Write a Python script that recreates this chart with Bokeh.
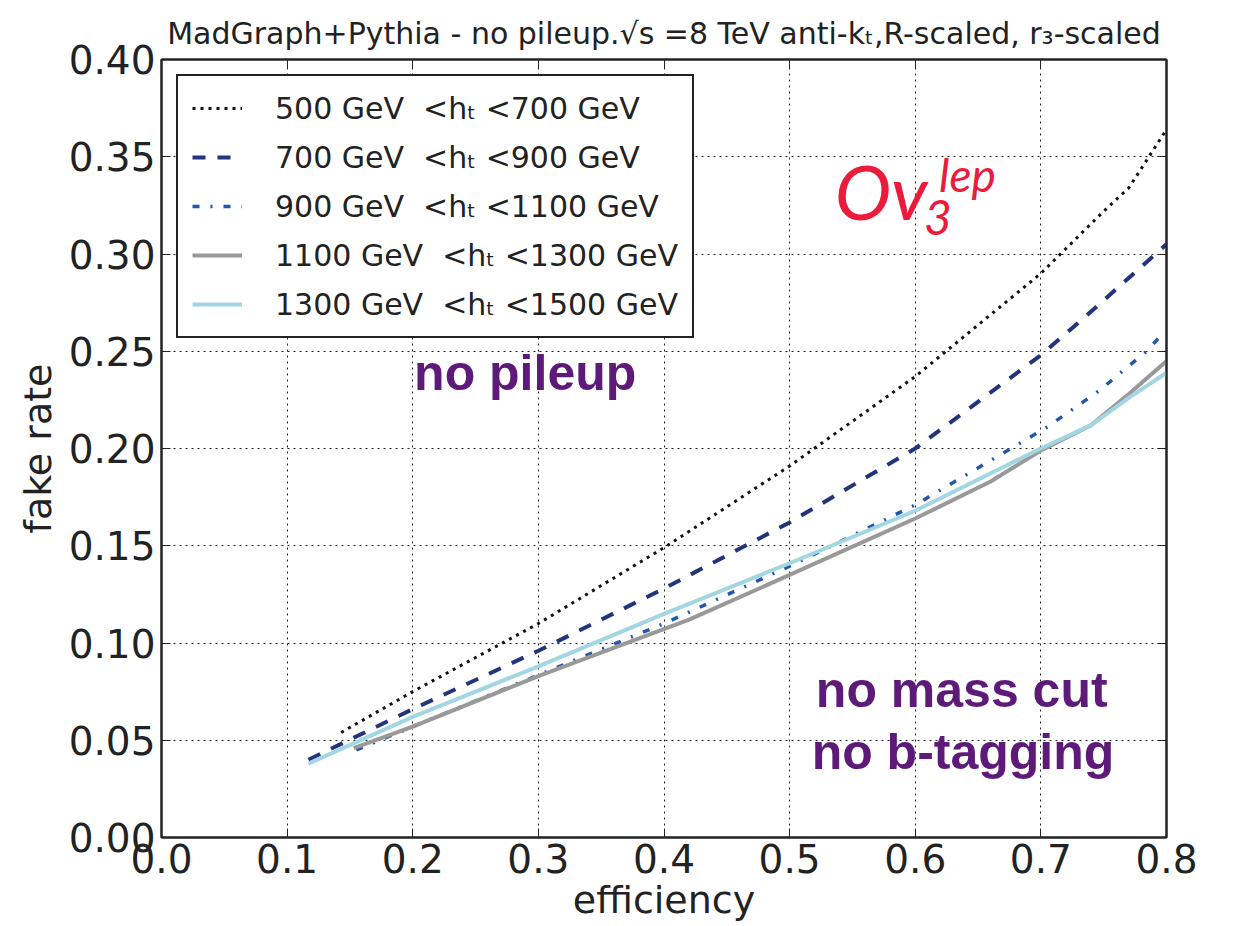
from bokeh.plotting import figure
from bokeh.models import (Range1d, FixedTicker, Legend, LegendItem, Label,
                          NumeralTickFormatter, LinearAxis)
from bokeh.embed import file_html
from bokeh.resources import INLINE

# ---- data ----
labels = [
    "500 GeV  <hₜ <700 GeV",
    "700 GeV  <hₜ <900 GeV",
    "900 GeV  <hₜ <1100 GeV",
    "1100 GeV  <hₜ <1300 GeV",
    "1300 GeV  <hₜ <1500 GeV",
]
eff_500 = [0.143, 0.2, 0.3, 0.4, 0.5, 0.6, 0.7, 0.75, 0.77, 0.8]
fake_500 = [0.054, 0.075, 0.110, 0.149, 0.191, 0.237, 0.290, 0.322, 0.334, 0.364]

eff_700 = [0.117, 0.2, 0.3, 0.4, 0.5, 0.6, 0.7, 0.734, 0.8]
fake_700 = [0.040, 0.066, 0.096, 0.128, 0.162, 0.200, 0.248, 0.267, 0.305]

eff_900 = [0.155, 0.2, 0.3, 0.4, 0.5, 0.6, 0.705, 0.747, 0.785, 0.794]
fake_900 = [0.045, 0.057, 0.0835, 0.110, 0.1395, 0.171, 0.211, 0.230, 0.2505, 0.257]

eff_1100 = [0.153, 0.2, 0.3, 0.42, 0.5, 0.6, 0.66, 0.7, 0.74, 0.77, 0.8]
fake_1100 = [0.046, 0.057, 0.083, 0.112, 0.135, 0.164, 0.183, 0.199, 0.212, 0.228, 0.245]

eff_1300 = [0.117, 0.2, 0.3, 0.4, 0.5, 0.6, 0.7, 0.74, 0.77, 0.8]
fake_1300 = [0.038, 0.062, 0.088, 0.115, 0.141, 0.168, 0.200, 0.212, 0.226, 0.239]

x_ticks = [0.0, 0.1, 0.2, 0.3, 0.4, 0.5, 0.6, 0.7, 0.8]
y_ticks = [0.00, 0.05, 0.10, 0.15, 0.20, 0.25, 0.30, 0.35, 0.40]

title_text = "MadGraph+Pythia - no pileup.√s =8 TeV anti-kₜ,R-scaled, r₃-scaled"

# ---- figure ----
p = figure(width=1222, height=924, output_backend="svg", toolbar_location=None,
           x_range=Range1d(0, 0.8), y_range=Range1d(0, 0.4),
           min_border_left=161, min_border_right=56, min_border_top=59, min_border_bottom=86)

p.title.text = title_text
p.title.align = "center"
p.title.text_font = "DejaVu Sans"
p.title.text_font_size = "30px"
p.title.text_font_style = "normal"
p.title.text_color = "#222222"
p.title.standoff = 18

p.outline_line_color = "#222222"
p.outline_line_width = 2
p.background_fill_color = "white"
p.border_fill_color = "white"

for ax in (p.xaxis[0], p.yaxis[0]):
    ax.axis_line_width = 2
    ax.axis_line_color = "#222222"
    ax.major_tick_in = 9
    ax.major_tick_out = 0
    ax.minor_tick_line_color = None
    ax.major_tick_line_color = "#222222"
    ax.major_label_text_font = "DejaVu Sans"
    ax.major_label_text_font_size = "39px"
    ax.major_label_text_color = "#222222"

p.xaxis[0].ticker = FixedTicker(ticks=x_ticks)
p.yaxis[0].ticker = FixedTicker(ticks=y_ticks)
p.xaxis[0].formatter = NumeralTickFormatter(format="0.0")
p.yaxis[0].formatter = NumeralTickFormatter(format="0.00")
p.xaxis[0].major_label_standoff = 6
p.yaxis[0].major_label_standoff = 6

p.xaxis[0].axis_label = "efficiency"
p.xaxis[0].axis_label_text_font = "DejaVu Sans"
p.xaxis[0].axis_label_text_font_size = "38px"
p.xaxis[0].axis_label_text_font_style = "normal"
p.xaxis[0].axis_label_text_color = "#222222"
p.xaxis[0].axis_label_standoff = 2

p.yaxis[0].axis_label = "fake rate"
p.yaxis[0].axis_label_text_font = "DejaVu Sans"
p.yaxis[0].axis_label_text_font_size = "38px"
p.yaxis[0].axis_label_text_font_style = "normal"
p.yaxis[0].axis_label_text_color = "#222222"
p.yaxis[0].axis_label_standoff = 6

# mirrored tick marks on the top and right edges (no labels)
top_ax = LinearAxis(ticker=FixedTicker(ticks=x_ticks),
                    major_label_overrides={t: "" for t in x_ticks},
                    major_label_text_font_size="1px", major_label_standoff=0,
                    major_tick_in=9, major_tick_out=0, minor_tick_line_color=None,
                    axis_line_width=2, axis_line_color="#222222",
                    major_tick_line_color="#222222")
right_ax = LinearAxis(ticker=FixedTicker(ticks=y_ticks),
                      major_label_overrides={t: "" for t in y_ticks},
                      major_label_text_font_size="1px", major_label_standoff=0,
                      major_tick_in=9, major_tick_out=0, minor_tick_line_color=None,
                      axis_line_width=2, axis_line_color="#222222",
                      major_tick_line_color="#222222")
p.add_layout(top_ax, "above")
p.add_layout(right_ax, "right")

p.xgrid[0].ticker = FixedTicker(ticks=x_ticks)
p.ygrid[0].ticker = FixedTicker(ticks=y_ticks)
p.grid.grid_line_color = "#222222"
p.grid.grid_line_dash = "2 4"
p.grid.grid_line_width = 1

# ---- curves ----
r1 = p.line(eff_500, fake_500, line_color="#111111", line_width=3, line_dash="3 5")
r2 = p.line(eff_700, fake_700, line_color="#22347a", line_width=4, line_dash="13 12")
r3 = p.line(eff_900, fake_900, line_color="#2457a8", line_width=3.5, line_dash="7 11 2 11")
r4 = p.line(eff_1100, fake_1100, line_color="#999999", line_width=4)
r5 = p.line(eff_1300, fake_1300, line_color="#a3d6e3", line_width=4)

legend = Legend(items=[LegendItem(label=labels[i], renderers=[r])
                       for i, r in enumerate([r1, r2, r3, r4, r5])],
                location="top_left", margin=15, padding=14,
                glyph_width=50, glyph_height=36, label_height=36,
                label_standoff=33, spacing=13,
                label_text_font="DejaVu Sans", label_text_font_size="30px",
                label_text_color="#222222",
                border_line_color="#222222", border_line_width=2, border_line_alpha=1.0,
                background_fill_color="white", background_fill_alpha=1.0)
p.add_layout(legend)

# ---- annotations ----
purple = "#5e1a78"
for txt, xx, yy in [("no pileup", 0.2895, 0.2388),
                    ("no mass cut", 0.637, 0.0760),
                    ("no b-tagging", 0.638, 0.0442)]:
    p.add_layout(Label(x=xx, y=yy, text=txt, text_align="center", text_baseline="alphabetic",
                       text_font="Liberation Sans", text_font_style="bold",
                       text_font_size="50px", text_color=purple))

red = "#ec1a3b"
p.add_layout(Label(x=0.536, y=0.3328, text="Ov", text_align="left", text_baseline="alphabetic",
                   text_font="Lato", text_font_style="italic", text_font_size="76px", text_color=red))
p.add_layout(Label(x=0.607, y=0.3190, text="3", text_align="left", text_baseline="alphabetic",
                   text_font="Lato", text_font_style="italic", text_font_size="48px", text_color=red))
p.add_layout(Label(x=0.619, y=0.3407, text="lep", text_align="left", text_baseline="alphabetic",
                   text_font="Lato", text_font_style="italic", text_font_size="46px", text_color=red))

open("out.html", "w").write(file_html(p, INLINE))
